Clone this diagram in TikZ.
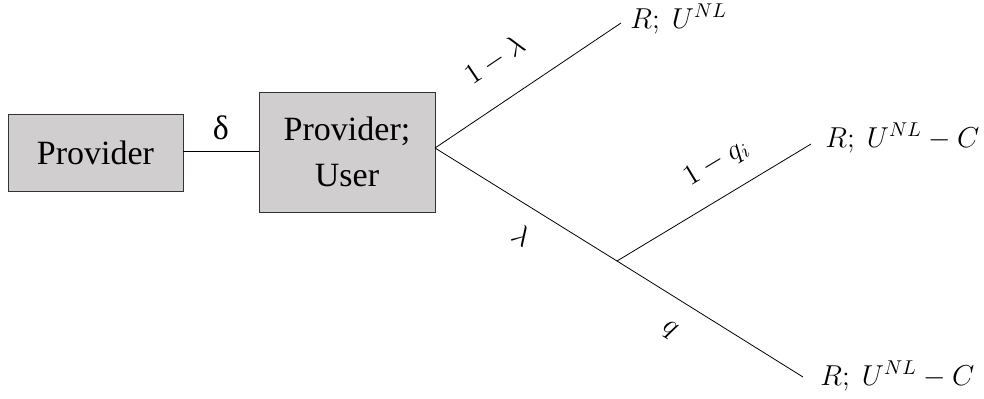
\documentclass[tikz,border=0pt]{standalone}
\usepackage{amsmath,amssymb}
\usepackage{fontspec}
\setmainfont{Liberation Serif}
\usepackage{tikz}
\usetikzlibrary{calc}

\definecolor{boxgray}{HTML}{D0CECE}
\tikzset{
    player/.style={draw=black!80, fill=boxgray, align=center, inner sep=0pt, font=\fontsize{17}{23}\selectfont},
    leaf/.style={anchor=base west, inner sep=0pt},
    prob/.style={sloped, inner sep=0pt}
}

\begin{document}
\begin{tikzpicture}[x=0.5pt, y=0.5pt, every node/.style={font=\fontsize{14.5}{20}\selectfont}]
        \useasboundingbox (0,0) rectangle (984,-398);

        \node[player, minimum width=87.5pt, minimum height=38.5pt] (prov) at (95.5,-152.5) {Provider};
        \node[player, minimum width=88pt, minimum height=60pt] (user) at (347,-152) {Provider;\\User};
        \draw (prov.east |- 0,-151) -- node[anchor=south, yshift=2pt, font=\fontsize{17}{20}\selectfont]{δ} (user.west |- 0,-151);

        \coordinate (fork) at (435,-148);
        \coordinate (chance) at (617,-261);
        \coordinate (a1) at (621,-23);
        \coordinate (b1) at (811,-144);
        \coordinate (b2) at (803,-377);

        \draw (fork) -- node[prob, pos=0.44, above=14pt]{$1-\lambda$} (a1);
        \draw (fork) -- node[prob, pos=0.56, below=9pt]{$\lambda$} (chance);
        \draw (chance) -- node[prob, pos=0.6, above=10pt]{$1-q_i$} (b1);
        \draw (chance) -- node[prob, pos=0.37, below=11pt]{$q$} (b2);

        \node[leaf] (ra) at (630,-28) {$R;\ U^{NL}$};
        \node[leaf] (rb) at (825,-147) {$R;\ U^{NL}-C$};
        \node[leaf] (rc) at (820,-385) {$R;\ U^{NL}-C$};

    \end{tikzpicture}
\end{document}
